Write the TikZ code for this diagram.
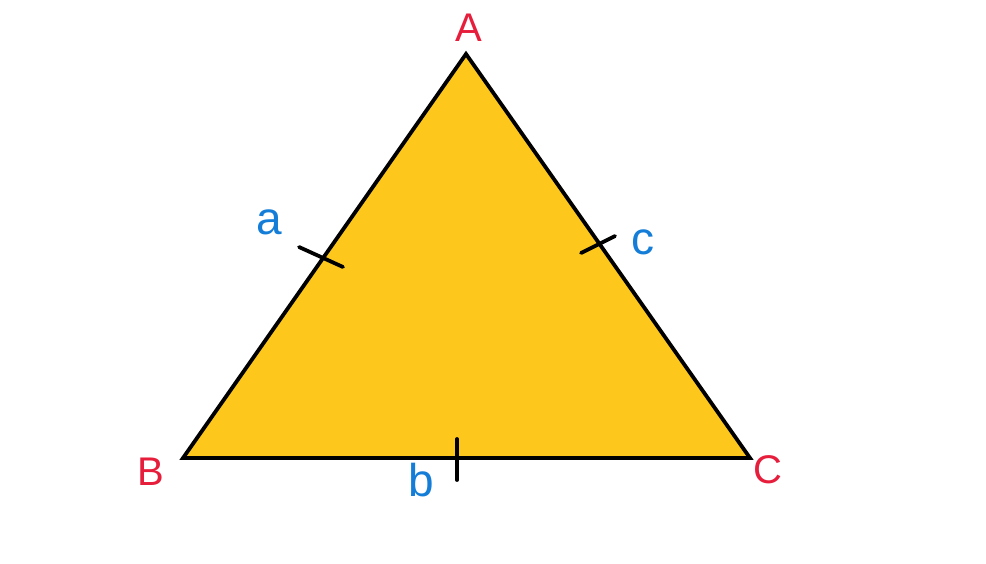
\documentclass[tikz,border=0pt]{standalone}
\usepackage{fontspec}
\setmainfont{Liberation Sans}
\definecolor{triyellow}{RGB}{253,200,27}
\definecolor{vred}{RGB}{230,30,60}
\definecolor{sblue}{RGB}{20,125,215}
\begin{document}
\begin{tikzpicture}[x=1pt,y=-1pt,
  edge/.style={draw=black,line width=3.8pt,line join=miter},
  tick/.style={draw=black,line width=3.8pt,line cap=round},
  vlab/.style={text=vred,font=\fontsize{40}{40}\selectfont,inner sep=0pt},
  slab/.style={text=sblue,font=\fontsize{46}{46}\selectfont,inner sep=0pt}]
\useasboundingbox (0,0) rectangle (986,564);
\coordinate (A) at (466,54);
\coordinate (B) at (183,458);
\coordinate (C) at (750,458);
\fill[triyellow] (A) -- (B) -- (C) -- cycle;
\draw[edge] (A) -- (B) -- (C) -- cycle;
\coordinate (t1a) at (299,247);
\coordinate (t1b) at (343,267);
\coordinate (t2a) at (581,253);
\coordinate (t2b) at (615,236);
\coordinate (t3a) at (457,439);
\coordinate (t3b) at (457,480);
\draw[tick] (t1a) -- (t1b);
\draw[tick] (t2a) -- (t2b);
\draw[tick] (t3a) -- (t3b);
\node[vlab] (lA) at (469,28) {A};
\node[vlab] (lB) at (151,472) {B};
\node[vlab] (lC) at (768,470) {C};
\node[slab] (la) at (269,222) {a};
\node[slab] (lc) at (643,242) {c};
\node[slab] (lb) at (421,480) {b};
\end{tikzpicture}
\end{document}
